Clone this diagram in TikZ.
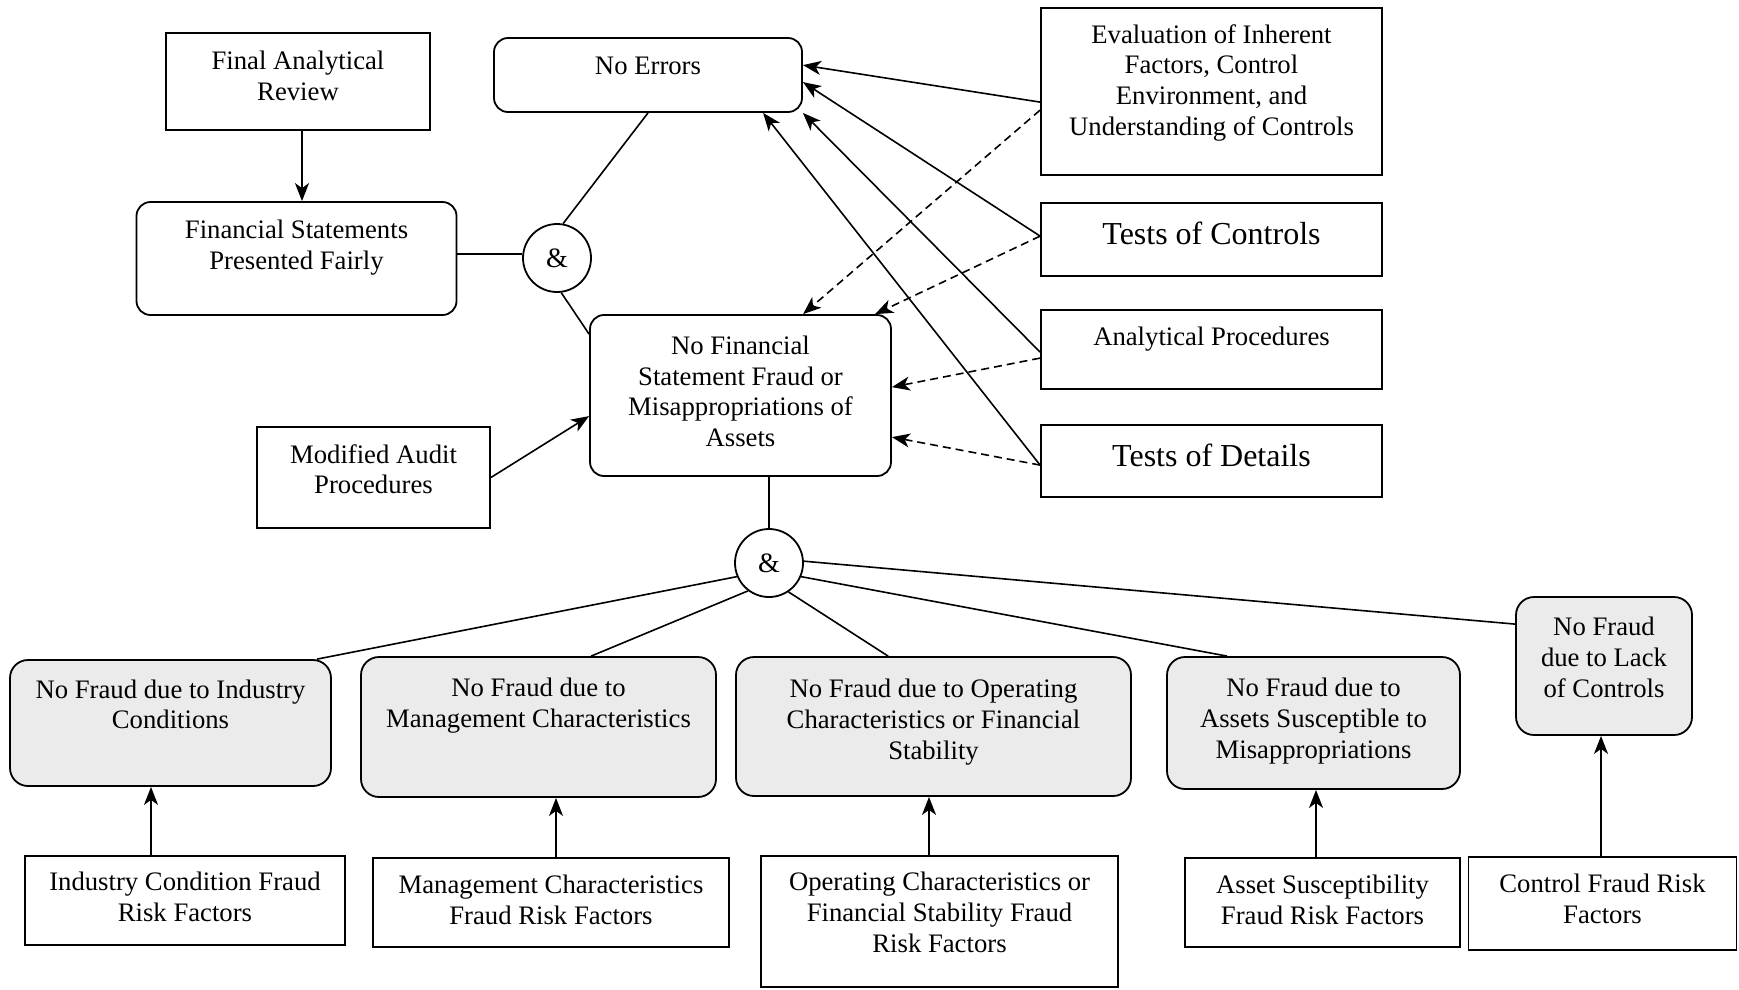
\documentclass[tikz,border=0pt]{standalone}
\usepackage{fontspec}
\setmainfont{Liberation Serif}
\usetikzlibrary{arrows.meta,calc}
\definecolor{boxgray}{RGB}{235,235,235}
\begin{document}
\begin{tikzpicture}[x=1pt,y=-1pt,
  txt/.style={font=\fontsize{26.7}{30.7}\selectfont, align=center, inner sep=0pt},
  bigtxt/.style={font=\fontsize{32}{37}\selectfont, align=center, inner sep=0pt},
  sbox/.style={draw, line width=1.8pt, inner sep=0pt},
  rbox/.style={sbox, rounded corners=14pt},
  gbox/.style={sbox, fill=boxgray, rounded corners=18pt},
  andnode/.style={draw, circle, line width=1.8pt, minimum size=68pt, inner sep=0pt, font=\fontsize{28}{30}\selectfont},
  conn/.style={line width=1.6pt},
  arr/.style={conn, -{Stealth[length=18pt,width=14pt,inset=5pt]}},
  darr/.style={arr, dash pattern=on 8pt off 5pt},
]
\useasboundingbox (0,0) rectangle (1739,989);

% top area
\node[sbox, minimum width=264pt, minimum height=97pt, label={[txt,below=18.5pt]north:Final Analytical\\Review}] (far) at (298,81.5) {};
\node[rbox, minimum width=308pt, minimum height=74pt, label={[txt,below=20pt]north:No Errors}] (ne) at (648,75) {};
\node[sbox, minimum width=341pt, minimum height=167pt, label={[txt,below=17pt]north:Evaluation of Inherent\\Factors, Control\\Environment, and\\Understanding of Controls}] (eval) at (1211.5,91.5) {};
\node[rbox, minimum width=320pt, minimum height=113pt, label={[txt,below=19pt]north:Financial Statements\\Presented Fairly}] (fspf) at (296.5,258.5) {};
\node[andnode] (and1) at (557,258) {\&};
\node[sbox, minimum width=341pt, minimum height=73pt, label={[bigtxt,below=19.7pt]north:Tests of Controls}] (toc) at (1211.5,239.5) {};
\node[rbox, minimum width=301pt, minimum height=161pt, label={[txt,below=21.6pt]north:No Financial\\Statement Fraud or\\Misappropriations of\\Assets}] (nfsf) at (740.5,395.5) {};
\node[sbox, minimum width=341pt, minimum height=79pt, label={[txt,below=17.7pt]north:Analytical Procedures}] (ap) at (1211.5,349.5) {};
\node[sbox, minimum width=233pt, minimum height=101pt, label={[txt,below=18pt]north:Modified Audit\\Procedures}] (map) at (373.5,477.5) {};
\node[sbox, minimum width=341pt, minimum height=72pt, label={[bigtxt,below=19.5pt]north:Tests of Details}] (tod) at (1211.5,461) {};
\node[andnode] (and2) at (769,563) {\&};

% gray row
\node[gbox, minimum width=321pt, minimum height=126pt, label={[txt,below=20.3pt]north:No Fraud due to Industry\\Conditions}] (g1) at (170.5,723) {};
\node[gbox, minimum width=355pt, minimum height=140pt, label={[txt,below=22pt]north:No Fraud due to\\Management Characteristics}] (g2) at (538.5,727) {};
\node[gbox, minimum width=395pt, minimum height=139pt, label={[txt,below=23pt]north:No Fraud due to Operating\\Characteristics or Financial\\Stability}] (g3) at (933.5,726.5) {};
\node[gbox, minimum width=293pt, minimum height=132pt, label={[txt,below=22pt]north:No Fraud due to\\Assets Susceptible to\\Misappropriations}] (g4) at (1313.5,723) {};
\node[gbox, minimum width=176pt, minimum height=138pt, label={[txt,below=21pt]north:No Fraud\\due to Lack\\of Controls}] (g5) at (1604,666) {};

% factor row
\node[sbox, minimum width=320pt, minimum height=89pt, label={[txt,below=17pt]north:Industry Condition Fraud\\Risk Factors}] (f1) at (185,900.5) {};
\node[sbox, minimum width=356pt, minimum height=89pt, label={[txt,below=17.5pt]north:Management Characteristics\\Fraud Risk Factors}] (f2) at (551,902.5) {};
\node[sbox, minimum width=357pt, minimum height=131pt, label={[txt,below=17pt]north:Operating Characteristics or\\Financial Stability Fraud\\Risk Factors}] (f3) at (939.5,921.5) {};
\node[sbox, minimum width=275pt, minimum height=89pt, label={[txt,below=17.5pt]north:Asset Susceptibility\\Fraud Risk Factors}] (f4) at (1322.5,902.5) {};
\node[sbox, minimum width=268pt, minimum height=93pt, label={[txt,below=17.5pt]north:Control Fraud Risk\\Factors}] (f5) at (1602.5,903.5) {};

% connectors top-left
\coordinate (a0) at ([xshift=4pt]far.south);
\draw[arr] (a0) -- (a0 |- fspf.north);
\draw[conn] (and1.173) -- (and1.173 -| fspf.east);
\draw[conn] (and1.80) -- (ne.south);
\draw[conn] (and1.-83) -- ($(nfsf.north west)+(0,20)$);
\draw[arr] (map.east) -- ($(nfsf.north west)+(0,102)$);

% right side evidence
\draw[arr] ($(eval.north west)+(0,95)$) -- ($(ne.north east)+(0,28)$);
\draw[darr] ($(eval.north west)+(0,103)$) -- ($(nfsf.north west)+(214,0)$);
\draw[arr] ($(toc.north west)+(0,34)$) -- ($(ne.north east)+(0,45)$);
\draw[darr] ($(toc.north west)+(0,34)$) -- ($(nfsf.north west)+(286,0)$);
\draw[arr] ($(ap.north west)+(0,43)$) -- (ne.south east);
\draw[darr] ($(ap.north west)+(0,49)$) -- ($(nfsf.north east)+(0,73)$);
\draw[arr] ($(tod.north west)+(0,41)$) -- ($(ne.south west)+(270,0)$);
\draw[darr] ($(tod.north west)+(0,41)$) -- ($(nfsf.north east)+(0,123)$);

% lower tree
\draw[conn] (and2.north |- nfsf.south) -- (and2.north);
\draw[conn] (and2.203) -- ($(g1.north west)+(308,0)$);
\draw[conn] (and2.233) -- ($(g2.north west)+(231,0)$);
\draw[conn] (and2.-56) -- ($(g3.north west)+(153,0)$);
\draw[conn] (and2.-23) -- ($(g4.north west)+(61,0)$);
\draw[conn] (and2.3) -- ($(g5.north west)+(0,28)$);

\coordinate (b1) at ([xshift=-34pt]f1.north);
\draw[arr] (b1) -- (b1 |- g1.south);
\coordinate (b2) at ([xshift=5pt]f2.north);
\draw[arr] (b2) -- (b2 |- g2.south);
\coordinate (b3) at ([xshift=-10.5pt]f3.north);
\draw[arr] (b3) -- (b3 |- g3.south);
\coordinate (b4) at ([xshift=-6.5pt]f4.north);
\draw[arr] (b4) -- (b4 |- g4.south);
\coordinate (b5) at ([xshift=-1.5pt]f5.north);
\draw[arr] (b5) -- (b5 |- g5.south);
\end{tikzpicture}
\end{document}
